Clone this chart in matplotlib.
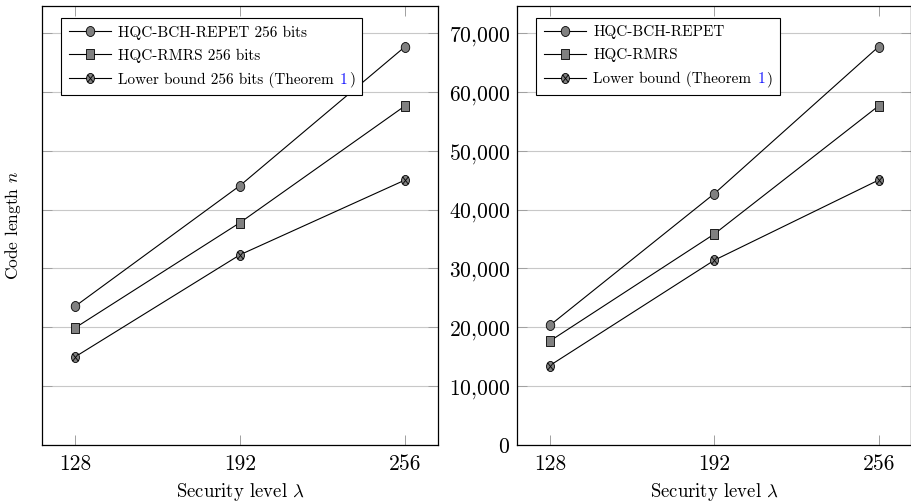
import numpy as np
import matplotlib
matplotlib.use("Agg")
import matplotlib.pyplot as plt
from matplotlib.path import Path
from matplotlib.transforms import Affine2D
from matplotlib.ticker import FuncFormatter, FixedLocator
from matplotlib.offsetbox import TextArea, HPacker

plt.rcParams['font.family'] = ['cmr10', 'DejaVu Serif']
plt.rcParams['mathtext.fontset'] = 'cm'
plt.rcParams['axes.formatter.use_mathtext'] = True
plt.rcParams['axes.unicode_minus'] = False

# ---------------- data ----------------
levels = [128, 192, 256]
xtick_labels = ["128", "192", "256"]
yticks = [0, 10000, 20000, 30000, 40000, 50000, 60000, 70000]

bch_left = [23560, 44090, 67700]
rmrs_left = [19900, 37790, 57637]
lb_left = [14970, 32330, 45030]

bch_right = [20340, 42710, 67700]
rmrs_right = [17669, 35851, 57637]
lb_right = [13510, 31400, 45030]

labels_left = ["HQC-BCH-REPET 256 bits", "HQC-RMRS 256 bits", "Lower bound 256 bits"]
labels_right = ["HQC-BCH-REPET", "HQC-RMRS", "Lower bound"]

# ---------------- markers (slightly squashed as in the reference) ----------------
circ = Path.unit_circle().transformed(Affine2D().scale(0.85, 1.0))
m_circle = circ
m_square = Path([(-0.92, -1), (0.92, -1), (0.92, 1), (-0.92, 1), (-0.92, -1)],
                [Path.MOVETO, Path.LINETO, Path.LINETO, Path.LINETO, Path.CLOSEPOLY])
circ2 = Path.unit_circle().transformed(Affine2D().scale(0.78, 1.0))
d = 0.707
xv = np.array([(-d * 0.78, -d), (d * 0.78, d), (-d * 0.78, d), (d * 0.78, -d)])
m_otimes = Path(np.vstack([circ2.vertices, xv]),
                np.concatenate([circ2.codes, [Path.MOVETO, Path.LINETO, Path.MOVETO, Path.LINETO]]))

gray = '#808080'
fig = plt.figure(figsize=(9.12, 5.04), dpi=100)
W, H = 912.0, 504.0
ax1 = fig.add_axes([42 / W, (H - 445) / H, 396 / W, 439.5 / H])
ax2 = fig.add_axes([517 / W, (H - 445) / H, 394.5 / W, 439.5 / H])

leg_fs = 11
tick_fs = 15.5
lab_fs = 13.5


def draw(ax, bch, rmrs, lb, labels):
    kw = dict(color='black', lw=0.8, mfc=gray, mec='black', mew=0.6, zorder=3, clip_on=False)
    ax.plot(levels, bch, marker=m_circle, ms=7.2, label=labels[0], **kw)
    ax.plot(levels, rmrs, marker=m_square, ms=6.8, label=labels[1], **kw)
    ax.plot(levels, lb, marker=m_otimes, ms=7.3, label=labels[2] + " (Theorem 1)", **kw)
    ax.set_xlim(115.2, 268.8)
    ax.set_ylim(0, 74700)
    ax.xaxis.set_major_locator(FixedLocator(levels))
    ax.set_xticklabels(xtick_labels)
    ax.yaxis.set_major_locator(FixedLocator(yticks))
    ax.grid(axis='y', color='#c8c8c8', lw=0.8, zorder=0)
    ax.set_axisbelow(True)
    ax.tick_params(axis='both', direction='in', length=7, width=0.7, color='#a0a0a0',
                   top=True, right=True, labelsize=tick_fs, pad=5)
    ax.tick_params(axis='x', pad=7)
    for s in ax.spines.values():
        s.set_linewidth(0.9)
        s.set_color('black')
    ax.set_xlabel(r"Security level $\lambda$", fontsize=lab_fs, labelpad=5)
    leg = ax.legend(loc='upper left', bbox_to_anchor=(0.048, 0.972), borderaxespad=0,
                    fontsize=leg_fs, fancybox=False, edgecolor='black', framealpha=1,
                    handlelength=2.75, handletextpad=0.5, labelspacing=0.58,
                    borderpad=0.5)
    leg.get_frame().set_linewidth(0.8)
    # colour the "1" of "Theorem 1" blue
    try:
        item = leg._legend_handle_box.get_children()[0].get_children()[2]
        props = dict(fontsize=leg_fs, family=['cmr10', 'DejaVu Serif'], color='black')
        a = TextArea(labels[2] + " (Theorem", textprops=props)
        b = TextArea("1", textprops=dict(props, color='#1a1aff'))
        c = TextArea(")", textprops=props)
        inner = HPacker(children=[b, c], sep=leg_fs * 0.08, pad=0, align='baseline')
        outer = HPacker(children=[a, inner], sep=leg_fs * 0.38, pad=0, align='baseline')
        for t in (a, b, c):
            t._text.set_figure(fig)
        outer.set_figure(fig)
        inner.set_figure(fig)
        item._children[1] = outer
    except Exception:
        pass
    return leg


def fmt(v, p):
    s = f"{int(v):,}".replace(",", "{,}")
    return "$" + s + "$"


draw(ax1, bch_left, rmrs_left, lb_left, labels_left)
draw(ax2, bch_right, rmrs_right, lb_right, labels_right)

ax1.set_yticklabels([])
ax1.set_ylabel(r"Code length $n$", fontsize=12.5, labelpad=9)
ax2.yaxis.set_major_formatter(FuncFormatter(fmt))

fig.savefig("out.png", dpi=100)
